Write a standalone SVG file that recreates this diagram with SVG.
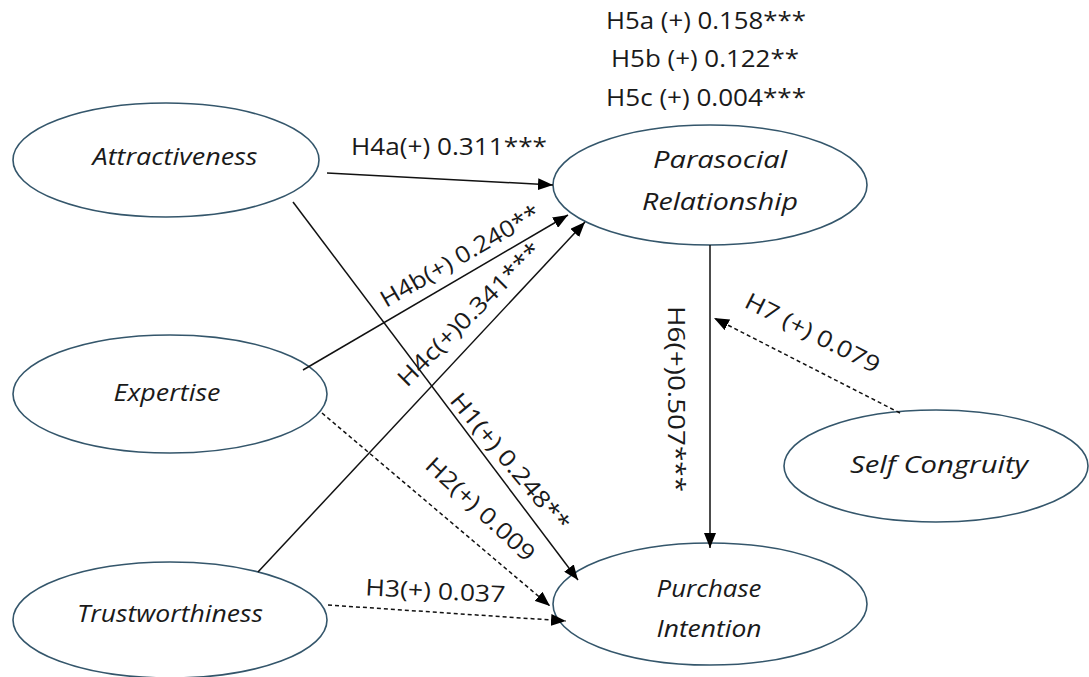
<svg xmlns="http://www.w3.org/2000/svg" width="1089" height="677" viewBox="0 0 1089 677">
<style>
.node ellipse{fill:#fff;stroke:#34566b;stroke-width:1.6}
.nl{font-family:"Open Sans","Noto Sans",sans-serif;font-style:italic;font-size:23px;fill:#1a1a1a;text-anchor:middle}
.lbl{font-family:"Open Sans","Noto Sans",sans-serif;font-size:23px;fill:#1a1a1a;text-anchor:middle}
.c{stroke:#111;stroke-width:1.5;fill:none}
.d{stroke-dasharray:4 3}
</style>
<defs>
<marker id="ah" markerUnits="userSpaceOnUse" markerWidth="16" markerHeight="12" refX="15" refY="6" orient="auto">
<path d="M0,0 L15,6 L0,12 Z" fill="#000"/>
</marker>
</defs>
<rect width="1089" height="677" fill="#fff"/>
<g id="n-attractiveness" class="node"><ellipse cx="166" cy="160" rx="153" ry="57"/><text class="nl" x="175" y="165" textLength="165" lengthAdjust="spacingAndGlyphs">Attractiveness</text></g>
<g id="n-expertise" class="node"><ellipse cx="170" cy="394" rx="157" ry="59"/><text class="nl" x="167" y="401" textLength="107" lengthAdjust="spacingAndGlyphs">Expertise</text></g>
<g id="n-trustworthiness" class="node"><ellipse cx="170" cy="620" rx="157" ry="58"/><text class="nl" x="170" y="622" textLength="186" lengthAdjust="spacingAndGlyphs">Trustworthiness</text></g>
<g id="n-parasocial" class="node"><ellipse cx="710" cy="185" rx="157" ry="60"/><text class="nl" x="720" y="168" textLength="134" lengthAdjust="spacingAndGlyphs">Parasocial</text><text class="nl" x="720" y="210" textLength="156" lengthAdjust="spacingAndGlyphs">Relationship</text></g>
<g id="n-purchase" class="node"><ellipse cx="710" cy="604" rx="157" ry="61"/><text class="nl" x="709" y="597" textLength="105" lengthAdjust="spacingAndGlyphs">Purchase</text><text class="nl" x="709" y="637" textLength="105" lengthAdjust="spacingAndGlyphs">Intention</text></g>
<g id="n-selfcongruity" class="node"><ellipse cx="936" cy="466" rx="152" ry="56"/><text class="nl" x="939" y="473" textLength="178" lengthAdjust="spacingAndGlyphs">Self Congruity</text></g>
<g id="connectors">
<line class="c" x1="327" y1="173" x2="553" y2="185" marker-end="url(#ah)"/>
<line class="c" x1="293" y1="202" x2="578" y2="580" marker-end="url(#ah)"/>
<line class="c" x1="303" y1="370" x2="568" y2="215" marker-end="url(#ah)"/>
<line class="c" x1="258" y1="572" x2="585" y2="222" marker-end="url(#ah)"/>
<line class="c d" x1="322" y1="413" x2="550" y2="606" marker-end="url(#ah)"/>
<line class="c d" x1="328" y1="605" x2="566" y2="621" marker-end="url(#ah)"/>
<line class="c" x1="710" y1="245" x2="710" y2="548" marker-end="url(#ah)"/>
<line class="c d" x1="900" y1="413" x2="714" y2="318" marker-end="url(#ah)"/>
</g>
<g id="labels">
<text class="lbl" x="706" y="29" textLength="200" lengthAdjust="spacingAndGlyphs">H5a (+) 0.158***</text>
<text class="lbl" x="705" y="67" textLength="188" lengthAdjust="spacingAndGlyphs">H5b (+) 0.122**</text>
<text class="lbl" x="706" y="106" textLength="200" lengthAdjust="spacingAndGlyphs">H5c (+) 0.004***</text>
<text class="lbl" x="449" y="155" textLength="196" lengthAdjust="spacingAndGlyphs">H4a(+) 0.311***</text>
<text class="lbl" transform="translate(464,263) rotate(-30)" textLength="180" lengthAdjust="spacingAndGlyphs">H4b(+) 0.240**</text>
<text class="lbl" transform="translate(475,320) rotate(-45)" textLength="192" lengthAdjust="spacingAndGlyphs">H4c(+)0.341***</text>
<text class="lbl" transform="translate(504,467) rotate(50)" textLength="172" lengthAdjust="spacingAndGlyphs">H1(+) 0.248**</text>
<text class="lbl" transform="translate(475,515) rotate(43)" textLength="140" lengthAdjust="spacingAndGlyphs">H2(+) 0.009</text>
<text class="lbl" transform="translate(435,599) rotate(3)" textLength="140" lengthAdjust="spacingAndGlyphs">H3(+) 0.037</text>
<text class="lbl" transform="translate(668,399) rotate(90)" textLength="186" lengthAdjust="spacingAndGlyphs">H6(+)0.507***</text>
<text class="lbl" transform="translate(809,340) rotate(27)" textLength="148" lengthAdjust="spacingAndGlyphs">H7 (+) 0.079</text>
</g>
</svg>
